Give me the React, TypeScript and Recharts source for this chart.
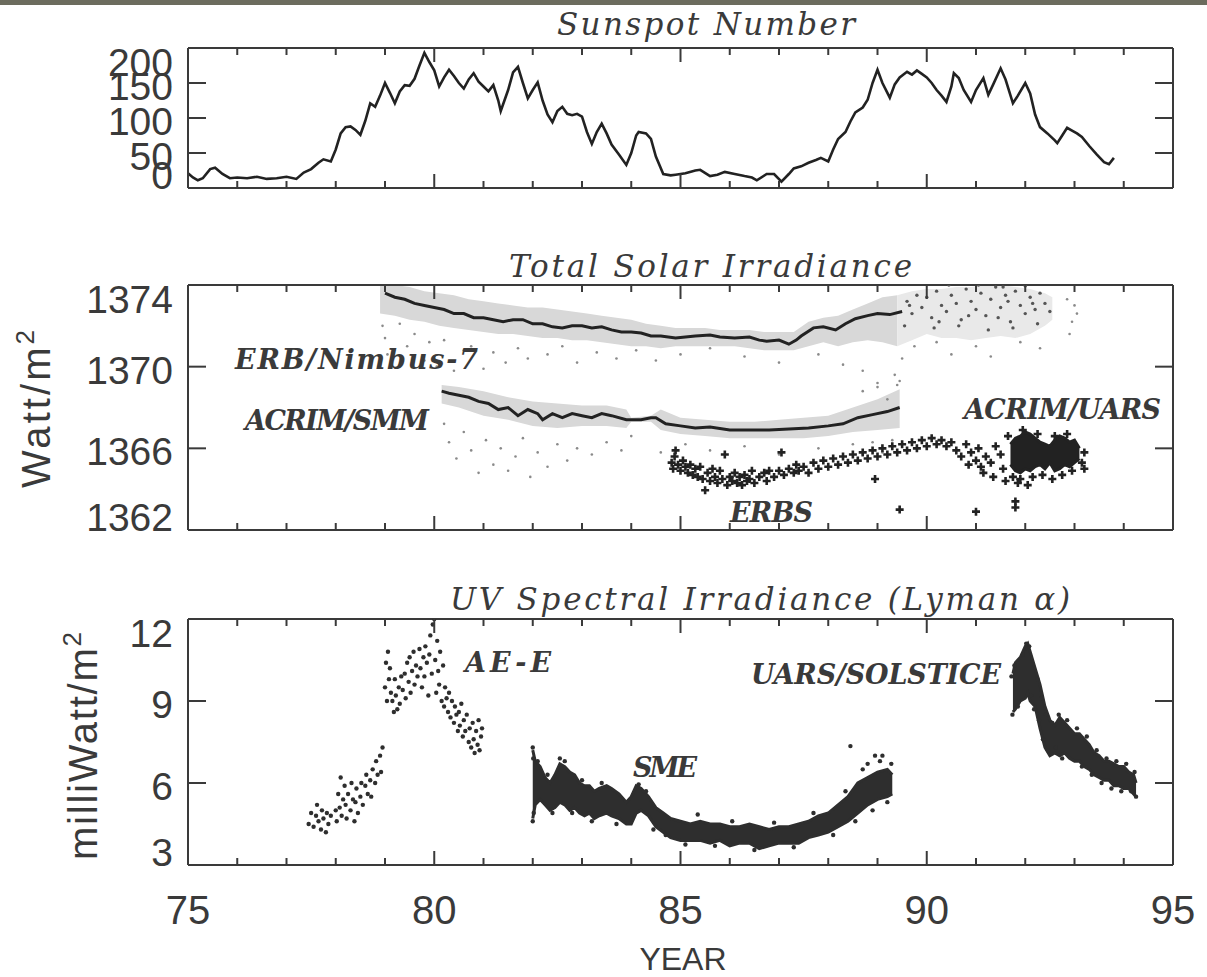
import React from 'react';
import { ComposedChart, Line, Area, Scatter, XAxis, YAxis } from 'recharts';

// ---- data (years as 19xx) ----
const YEAR_TICKS = [75, 76, 77, 78, 79, 80, 81, 82, 83, 84, 85, 86, 87, 88, 89, 90, 91, 92, 93, 94, 95];
const SUNSPOT_TICKS = [0, 50, 100, 150, 200];
const TSI_TICKS = [1362, 1366, 1370, 1374];
const UV_TICKS = [3, 6, 9, 12];

const sunspot = [
  [75.0, 21], [75.1, 15], [75.2, 11], [75.3, 14], [75.45, 27], [75.55, 29], [75.7, 20], [75.85, 14],
  [76.0, 15], [76.2, 14], [76.4, 16], [76.6, 13], [76.8, 14], [77.0, 16], [77.2, 13], [77.35, 22],
  [77.5, 27], [77.65, 36], [77.75, 41], [77.9, 38], [78.0, 55], [78.1, 78], [78.2, 87], [78.3, 88],
  [78.4, 83], [78.5, 76], [78.6, 96], [78.7, 121], [78.8, 116], [78.9, 132], [79.0, 150], [79.1, 136],
  [79.2, 121], [79.3, 138], [79.4, 147], [79.5, 146], [79.6, 156], [79.7, 175], [79.8, 193], [79.9, 180],
  [80.0, 168], [80.1, 145], [80.2, 158], [80.3, 169], [80.4, 160], [80.5, 150], [80.6, 142], [80.7, 155],
  [80.8, 164], [80.9, 152], [81.0, 145], [81.1, 138], [81.2, 147], [81.3, 125], [81.35, 110], [81.5, 140],
  [81.6, 165], [81.7, 173], [81.8, 150], [81.9, 128], [82.0, 140], [82.1, 151], [82.2, 125], [82.3, 105],
  [82.4, 94], [82.5, 110], [82.6, 116], [82.7, 106], [82.8, 104], [82.9, 106], [83.0, 102], [83.1, 80],
  [83.2, 63], [83.3, 80], [83.4, 92], [83.5, 78], [83.6, 62], [83.75, 48], [83.9, 33], [84.0, 50],
  [84.1, 75], [84.15, 80], [84.3, 78], [84.4, 70], [84.5, 45], [84.65, 20], [84.8, 18], [84.9, 19],
  [85.1, 21], [85.3, 25], [85.4, 26], [85.6, 17], [85.75, 19], [85.9, 23], [86.1, 20], [86.3, 17],
  [86.45, 15], [86.55, 11], [86.75, 20], [86.9, 20], [87.05, 9], [87.2, 20], [87.3, 28], [87.45, 31],
  [87.6, 36], [87.75, 40], [87.85, 43], [88.0, 38], [88.1, 55], [88.2, 70], [88.35, 80], [88.45, 95],
  [88.55, 108], [88.7, 115], [88.8, 126], [88.9, 150], [89.0, 169], [89.1, 150], [89.25, 129], [89.35, 148],
  [89.45, 158], [89.6, 166], [89.7, 162], [89.8, 168], [89.9, 163], [90.0, 158], [90.1, 150], [90.2, 140],
  [90.3, 132], [90.4, 123], [90.5, 145], [90.55, 164], [90.65, 157], [90.75, 140], [90.9, 123], [91.0, 140],
  [91.15, 157], [91.25, 133], [91.35, 148], [91.5, 171], [91.6, 155], [91.75, 121], [91.85, 132], [92.0, 150],
  [92.1, 135], [92.2, 105], [92.3, 87], [92.45, 78], [92.6, 68], [92.65, 64], [92.75, 75], [92.85, 86],
  [92.95, 82], [93.05, 78], [93.15, 73], [93.3, 60], [93.45, 48], [93.6, 37], [93.7, 34], [93.8, 43],
];

// ERB/Nimbus-7
const erbLine = [
  [79.0, 1373.6], [79.2, 1373.4], [79.4, 1373.3], [79.6, 1373.1], [79.8, 1373.0], [80.0, 1372.9],
  [80.2, 1372.8], [80.4, 1372.6], [80.6, 1372.6], [80.8, 1372.4], [81.0, 1372.4], [81.2, 1372.3],
  [81.4, 1372.2], [81.6, 1372.3], [81.8, 1372.3], [82.0, 1372.1], [82.2, 1372.1], [82.4, 1371.95],
  [82.6, 1371.9], [82.8, 1372.0], [83.0, 1372.0], [83.2, 1371.9], [83.4, 1371.95], [83.6, 1371.8],
  [83.8, 1371.7], [84.0, 1371.7], [84.2, 1371.65], [84.4, 1371.5], [84.6, 1371.5], [84.9, 1371.4],
  [85.1, 1371.45], [85.3, 1371.5], [85.6, 1371.55], [85.8, 1371.45], [86.1, 1371.4], [86.4, 1371.45],
  [86.6, 1371.3], [86.75, 1371.25], [87.0, 1371.3], [87.2, 1371.1], [87.35, 1371.3], [87.45, 1371.5],
  [87.7, 1371.9], [87.9, 1371.95], [88.15, 1371.8], [88.35, 1372.1], [88.55, 1372.35], [88.8, 1372.5],
  [89.0, 1372.6], [89.25, 1372.55], [89.5, 1372.7],
];
const erbBand = [
  [78.9, 1372.6, 1374.0], [79.2, 1372.5, 1374.0], [79.5, 1372.3, 1373.9], [79.8, 1372.2, 1373.7],
  [80.1, 1372.0, 1373.6], [80.4, 1371.9, 1373.5], [80.7, 1371.8, 1373.3], [81.0, 1371.7, 1373.2],
  [81.3, 1371.6, 1373.1], [81.6, 1371.6, 1373.0], [81.9, 1371.5, 1372.9], [82.2, 1371.4, 1372.9],
  [82.5, 1371.4, 1372.8], [82.8, 1371.3, 1372.7], [83.1, 1371.3, 1372.6], [83.4, 1371.2, 1372.5],
  [83.7, 1371.1, 1372.4], [84.0, 1371.0, 1372.3], [84.3, 1371.0, 1372.1], [84.6, 1370.9, 1372.0],
  [84.9, 1371.0, 1371.9], [85.2, 1371.0, 1371.9], [85.5, 1371.0, 1371.9], [85.8, 1371.0, 1371.8],
  [86.1, 1371.0, 1371.8], [86.4, 1370.9, 1371.8], [86.7, 1370.8, 1371.7], [87.0, 1370.8, 1371.7],
  [87.3, 1370.8, 1371.7], [87.6, 1371.0, 1372.2], [87.9, 1371.2, 1372.4], [88.2, 1371.0, 1372.5],
  [88.5, 1371.2, 1372.8], [88.8, 1371.3, 1373.1], [89.1, 1371.2, 1373.4], [89.4, 1371.0, 1373.5],
];
const erbLateBand = [
  [89.4, 1371.0, 1373.5], [89.7, 1371.3, 1373.7], [90.0, 1371.6, 1373.8], [90.3, 1371.4, 1373.8],
  [90.6, 1371.4, 1373.9], [90.9, 1371.3, 1373.9], [91.2, 1371.4, 1374.0], [91.5, 1371.5, 1374.0],
  [91.8, 1371.4, 1373.9], [92.1, 1371.6, 1373.8], [92.4, 1372.0, 1373.6], [92.55, 1372.3, 1373.4],
];
const erbSpeckle = [
  [78.95, 1372.0], [79.0, 1371.4], [79.05, 1370.6], [79.3, 1372.1], [79.45, 1371.0], [79.6, 1371.6],
  [79.8, 1370.3], [79.9, 1371.2], [80.05, 1370.0], [80.2, 1371.3], [80.4, 1369.8], [80.6, 1370.8],
  [80.75, 1371.0], [81.0, 1369.9], [81.2, 1370.7], [81.45, 1370.2], [81.7, 1370.9], [81.9, 1370.4],
  [82.3, 1370.6], [82.6, 1371.0], [82.9, 1370.2], [83.3, 1370.7], [83.7, 1370.4], [84.1, 1370.8],
  [84.5, 1370.3], [85.0, 1370.6], [85.6, 1370.9], [86.3, 1370.5], [87.0, 1370.2], [87.8, 1370.6],
  [88.3, 1370.1], [88.7, 1369.8], [89.0, 1369.2], [89.2, 1368.4], [89.35, 1369.6], [89.5, 1370.4],
  [89.75, 1371.0], [90.2, 1371.2], [90.5, 1370.6], [91.0, 1371.0], [91.3, 1370.5], [91.9, 1371.2],
  [92.3, 1370.9], [92.9, 1371.6], [92.95, 1372.2], [93.0, 1373.0], [92.85, 1373.3], [93.05, 1372.6],
];
const erbLateSpeckle = [
  [89.6, 1373.2], [89.7, 1372.6], [89.8, 1373.5], [89.9, 1372.9], [90.0, 1373.4], [90.1, 1372.4],
  [90.2, 1373.7], [90.3, 1373.0], [90.4, 1372.7], [90.5, 1373.5], [90.6, 1373.1], [90.7, 1372.3],
  [90.8, 1373.8], [90.9, 1373.2], [91.0, 1372.8], [91.1, 1373.6], [91.2, 1372.5], [91.3, 1373.3],
  [91.4, 1373.9], [91.5, 1372.9], [91.6, 1373.5], [91.7, 1372.2], [91.8, 1373.7], [91.9, 1373.0],
  [92.0, 1372.6], [92.1, 1373.4], [92.2, 1372.8], [92.3, 1373.6], [92.4, 1373.1], [92.5, 1372.7],
  [89.55, 1372.0], [90.15, 1371.9], [90.65, 1372.0], [91.25, 1371.8], [91.75, 1371.9], [92.25, 1372.1],
  [90.45, 1374.0], [91.05, 1374.0], [91.55, 1373.9], [92.0, 1373.95], [89.65, 1373.0], [90.85, 1372.5],
  [91.45, 1372.4], [92.15, 1373.1], [90.25, 1372.2], [91.65, 1373.2],
];

// ACRIM/SMM
const smmLine = [
  [80.15, 1368.8], [80.3, 1368.7], [80.5, 1368.6], [80.7, 1368.5], [80.9, 1368.3], [81.1, 1368.2],
  [81.3, 1367.9], [81.5, 1368.0], [81.7, 1367.6], [81.9, 1367.9], [82.1, 1367.7], [82.2, 1367.4],
  [82.4, 1367.7], [82.6, 1367.5], [82.8, 1367.7], [83.0, 1367.6], [83.2, 1367.5], [83.4, 1367.7],
  [83.6, 1367.6], [83.9, 1367.4], [84.2, 1367.4], [84.4, 1367.5], [84.5, 1367.5], [84.7, 1367.2],
  [85.0, 1367.1], [85.3, 1367.0], [85.6, 1367.05], [86.0, 1366.9], [86.4, 1366.9], [86.8, 1366.9],
  [87.2, 1366.95], [87.6, 1367.0], [88.0, 1367.1], [88.3, 1367.2], [88.6, 1367.5], [88.9, 1367.65],
  [89.2, 1367.8], [89.45, 1368.0],
];
const smmBand = [
  [80.15, 1368.2, 1369.1], [80.5, 1368.0, 1369.0], [81.0, 1367.6, 1368.8], [81.5, 1367.4, 1368.5],
  [82.0, 1367.1, 1368.3], [82.5, 1367.0, 1368.2], [83.0, 1367.1, 1368.1], [83.5, 1367.1, 1368.1],
  [83.9, 1367.0, 1367.9], [84.0, 1367.3, 1367.5], [84.4, 1367.3, 1367.6], [84.6, 1366.9, 1367.9],
  [85.0, 1366.7, 1367.5], [85.5, 1366.6, 1367.4], [86.0, 1366.5, 1367.3], [86.5, 1366.5, 1367.3],
  [87.0, 1366.5, 1367.4], [87.5, 1366.5, 1367.5], [88.0, 1366.6, 1367.6], [88.5, 1366.8, 1368.0],
  [89.0, 1366.9, 1368.4], [89.45, 1367.0, 1368.9],
];
const smmSpeckle = [
  [80.2, 1367.2], [80.3, 1366.3], [80.45, 1365.5], [80.6, 1366.8], [80.75, 1365.9], [80.9, 1364.8],
  [81.05, 1366.4], [81.2, 1365.2], [81.35, 1366.0], [81.5, 1364.9], [81.65, 1365.6], [81.8, 1366.5],
  [81.95, 1364.6], [82.1, 1365.8], [82.3, 1365.1], [82.5, 1366.2], [82.7, 1365.4], [82.9, 1366.0],
  [83.2, 1365.7], [83.5, 1366.3], [83.8, 1365.9], [84.0, 1366.6], [84.6, 1365.8], [85.1, 1366.2],
  [85.6, 1365.9], [86.3, 1366.1], [87.0, 1365.7], [87.8, 1366.0], [88.5, 1366.2], [88.7, 1365.7],
  [88.9, 1366.3], [89.1, 1365.8], [89.3, 1366.4], [89.4, 1369.1], [89.45, 1369.3], [89.0, 1369.0],
  [88.7, 1368.8],
];

// ERBS and ACRIM/UARS
const erbsPoints = [
  [84.82, 1365.3], [84.85, 1365.0], [84.88, 1365.6], [84.9, 1365.9], [84.95, 1365.2], [85.0, 1364.9],
  [85.05, 1365.4], [85.1, 1365.1], [85.15, 1364.8], [85.2, 1365.2], [85.25, 1364.7], [85.3, 1365.0],
  [85.35, 1364.6], [85.4, 1365.1], [85.45, 1364.5], [85.5, 1363.95], [85.55, 1364.8], [85.6, 1364.4],
  [85.65, 1365.0], [85.7, 1364.6], [85.75, 1364.3], [85.8, 1364.9], [85.85, 1364.5], [85.9, 1365.7],
  [85.95, 1364.2], [86.0, 1364.6], [86.05, 1364.4], [86.1, 1364.8], [86.15, 1364.3], [86.2, 1364.6],
  [86.25, 1364.2], [86.3, 1364.7], [86.35, 1364.4], [86.4, 1364.5], [86.45, 1364.9], [86.5, 1364.3],
  [86.6, 1364.6], [86.7, 1364.8], [86.75, 1364.4], [86.8, 1364.9], [86.9, 1364.6], [87.0, 1364.9],
  [87.05, 1365.8], [87.1, 1364.7], [87.2, 1365.0], [87.3, 1364.8], [87.35, 1365.2], [87.4, 1364.9],
  [87.5, 1365.1], [87.6, 1364.8], [87.7, 1365.3], [87.8, 1365.0], [87.9, 1365.4], [88.0, 1365.1],
  [88.1, 1365.5], [88.2, 1365.2], [88.3, 1365.6], [88.4, 1365.3], [88.5, 1365.7], [88.6, 1365.4],
  [88.7, 1365.8], [88.8, 1365.5], [88.95, 1364.5], [88.9, 1365.9], [89.0, 1365.6], [89.1, 1366.0],
  [89.2, 1365.7], [89.3, 1366.1], [89.4, 1365.8], [89.45, 1363.0], [89.5, 1366.2], [89.6, 1365.9],
  [89.7, 1366.3], [89.8, 1366.0], [89.9, 1366.4], [90.0, 1366.1], [90.1, 1366.5], [90.2, 1366.2],
  [90.3, 1366.4], [90.4, 1366.1], [90.5, 1366.3], [90.6, 1365.9], [90.7, 1365.6], [90.8, 1366.2],
  [90.85, 1365.2], [90.9, 1365.8], [91.0, 1365.4], [91.0, 1362.9], [91.05, 1366.0], [91.1, 1365.1],
  [91.15, 1364.8], [91.2, 1365.6], [91.3, 1365.3], [91.35, 1364.6], [91.4, 1366.1], [91.5, 1365.7],
  [91.55, 1365.0], [91.6, 1364.4], [91.8, 1363.1], [91.8, 1363.4],
];
const uarsBand = [
  [91.7, 1365.2, 1366.2], [91.8, 1364.9, 1366.5], [91.9, 1364.8, 1366.6], [92.0, 1365.0, 1366.8],
  [92.1, 1364.9, 1366.7], [92.2, 1365.1, 1366.5], [92.3, 1365.2, 1366.3], [92.4, 1365.0, 1366.2],
  [92.5, 1365.3, 1366.1], [92.6, 1364.9, 1366.4], [92.7, 1365.0, 1366.6], [92.8, 1365.2, 1366.5],
  [92.9, 1365.1, 1366.3], [93.0, 1365.3, 1366.4], [93.1, 1365.5, 1366.0],
];
const uarsPoints = [
  [91.75, 1364.6], [91.85, 1364.3], [91.9, 1364.5], [92.05, 1364.2], [92.15, 1364.6], [92.35, 1364.7],
  [92.55, 1364.5], [92.75, 1364.7], [92.95, 1364.9], [93.15, 1365.3], [93.2, 1365.8], [93.2, 1365.0],
  [91.65, 1366.6], [91.95, 1366.9], [92.25, 1366.7], [92.6, 1366.6], [92.85, 1366.7],
];

// UV Lyman alpha
const aeePoints = [
  [77.45, 4.5], [77.5, 4.9], [77.55, 4.4], [77.6, 4.8], [77.62, 5.2], [77.65, 4.6], [77.7, 4.3],
  [77.72, 5.0], [77.75, 4.7], [77.8, 4.2], [77.82, 4.9], [77.85, 4.5], [77.9, 4.8], [78.0, 5.0],
  [78.02, 4.6], [78.05, 5.6], [78.08, 5.1], [78.1, 6.2], [78.12, 4.8], [78.15, 5.4], [78.18, 5.9],
  [78.2, 5.2], [78.22, 4.7], [78.25, 5.6], [78.3, 5.0], [78.32, 6.0], [78.35, 5.4], [78.38, 4.6],
  [78.4, 5.3], [78.42, 5.8], [78.45, 4.9], [78.5, 5.5], [78.52, 6.0], [78.55, 5.2], [78.6, 5.9],
  [78.62, 6.3], [78.65, 5.6], [78.7, 6.1], [78.72, 5.5], [78.75, 6.5], [78.8, 6.0], [78.82, 6.8],
  [78.85, 6.3], [78.9, 7.0], [78.92, 6.4], [78.95, 7.3], [79.0, 9.5], [79.02, 10.4], [79.04, 9.0],
  [79.06, 10.8], [79.08, 9.8], [79.1, 10.2], [79.12, 9.3], [79.15, 9.0], [79.18, 8.6], [79.2, 9.8],
  [79.22, 9.2], [79.25, 8.7], [79.28, 9.5], [79.3, 8.9], [79.33, 9.9], [79.36, 9.4], [79.4, 10.0],
  [79.42, 9.1], [79.45, 10.4], [79.48, 9.7], [79.5, 10.6], [79.52, 9.3], [79.55, 10.1], [79.58, 10.8],
  [79.6, 9.6], [79.63, 10.3], [79.66, 9.9], [79.7, 10.9], [79.72, 10.2], [79.75, 9.5], [79.78, 10.6],
  [79.8, 9.9], [79.82, 11.0], [79.85, 10.4], [79.88, 9.2], [79.9, 10.7], [79.92, 11.4], [79.95, 10.0],
  [79.97, 11.8], [80.0, 12.0], [80.02, 10.5], [80.04, 9.3], [80.06, 11.2], [80.08, 10.1], [80.1, 9.6],
  [80.12, 10.8], [80.15, 9.0], [80.18, 10.3], [80.2, 8.8], [80.22, 9.5], [80.25, 9.1], [80.28, 8.6],
  [80.3, 9.3], [80.33, 8.4], [80.36, 9.0], [80.4, 8.2], [80.42, 8.8], [80.45, 8.5], [80.48, 7.9],
  [80.5, 8.6], [80.52, 8.1], [80.55, 8.9], [80.58, 7.7], [80.6, 8.3], [80.63, 7.9], [80.66, 8.5],
  [80.7, 7.5], [80.72, 8.0], [80.75, 7.3], [80.78, 8.2], [80.8, 7.6], [80.82, 7.1], [80.85, 7.9],
  [80.88, 7.4], [80.9, 8.3], [80.92, 7.2], [80.95, 7.7], [80.97, 8.0],
];
const smeBand = [
  [82.0, 4.7, 7.2], [82.05, 5.2, 6.8], [82.15, 5.4, 6.6], [82.25, 5.2, 6.2], [82.35, 5.0, 6.0],
  [82.45, 5.1, 6.3], [82.55, 5.3, 6.7], [82.65, 5.2, 6.6], [82.75, 5.0, 6.4], [82.85, 5.1, 6.3],
  [82.95, 4.9, 6.0], [83.05, 4.8, 5.9], [83.15, 4.9, 5.9], [83.25, 4.7, 5.7], [83.35, 4.8, 5.8],
  [83.5, 4.9, 5.9], [83.6, 4.8, 5.8], [83.75, 4.7, 5.6], [83.9, 4.5, 5.3], [84.0, 4.5, 5.5],
  [84.1, 4.9, 5.9], [84.2, 5.0, 5.8], [84.35, 4.8, 5.5], [84.5, 4.4, 5.1], [84.65, 4.2, 4.9],
  [84.8, 4.0, 4.7], [85.0, 3.9, 4.6], [85.2, 3.9, 4.5], [85.4, 3.9, 4.6], [85.6, 3.8, 4.5],
  [85.8, 3.9, 4.5], [86.0, 3.7, 4.4], [86.2, 3.8, 4.4], [86.4, 3.8, 4.5], [86.6, 3.6, 4.4],
  [86.8, 3.7, 4.3], [87.0, 3.8, 4.4], [87.2, 3.8, 4.4], [87.4, 3.8, 4.5], [87.6, 4.0, 4.6],
  [87.8, 4.1, 4.8], [88.0, 4.2, 4.9], [88.2, 4.4, 5.2], [88.4, 4.6, 5.5], [88.6, 4.9, 6.0],
  [88.8, 5.2, 6.2], [89.0, 5.4, 6.4], [89.2, 5.5, 6.5], [89.3, 5.6, 6.3],
];
const smePoints = [
  [82.0, 7.3], [82.0, 4.6], [82.01, 6.9], [82.02, 4.9], [82.1, 6.8], [82.3, 6.3], [82.4, 4.9],
  [82.55, 6.9], [82.65, 6.8], [82.8, 4.9], [83.0, 6.1], [83.2, 4.6], [83.4, 6.0], [83.7, 4.5],
  [84.15, 5.95], [84.3, 5.7], [84.45, 4.3], [84.7, 4.1], [85.1, 3.75], [85.35, 4.85], [85.7, 3.7],
  [86.05, 4.6], [86.5, 3.55], [86.9, 4.55], [87.3, 3.65], [87.7, 4.9], [88.1, 4.1], [88.35, 5.7],
  [88.45, 7.35], [88.55, 4.6], [88.7, 6.5], [88.8, 6.7], [88.9, 5.0], [88.95, 7.0], [89.05, 6.8],
  [89.1, 7.0], [89.2, 5.3], [89.28, 6.7],
];
const solBand = [
  [91.75, 8.6, 10.0], [91.8, 8.7, 10.4], [91.9, 9.0, 10.6], [92.0, 9.1, 11.0], [92.05, 9.3, 11.1],
  [92.1, 9.0, 10.8], [92.2, 8.8, 10.2], [92.3, 8.0, 9.6], [92.4, 7.3, 8.8], [92.5, 7.0, 8.3],
  [92.6, 7.1, 8.1], [92.7, 7.0, 8.4], [92.8, 7.1, 8.2], [92.9, 6.9, 8.0], [93.0, 6.8, 7.8],
  [93.1, 6.8, 7.8], [93.2, 6.6, 7.6], [93.3, 6.5, 7.4], [93.4, 6.3, 7.1], [93.5, 6.2, 7.0],
  [93.6, 6.1, 6.8], [93.7, 6.1, 6.8], [93.8, 5.9, 6.7], [93.9, 5.9, 6.6], [94.0, 5.8, 6.6],
  [94.1, 5.8, 6.4], [94.2, 5.6, 6.3], [94.25, 5.5, 6.0],
];
const solPoints = [
  [91.72, 9.9], [91.74, 8.5], [91.78, 10.3], [91.85, 8.8], [91.95, 10.7], [92.02, 11.1], [92.05, 10.9],
  [92.08, 11.0], [92.12, 9.2], [92.18, 8.7], [92.25, 9.8], [92.28, 8.3], [92.33, 9.1], [92.36, 7.6],
  [92.42, 8.5], [92.46, 7.2], [92.55, 8.2], [92.62, 7.3], [92.68, 8.5], [92.75, 6.9], [92.85, 8.3],
  [93.05, 8.0], [93.15, 6.6], [93.25, 7.7], [93.35, 6.3], [93.45, 7.2], [93.55, 6.0], [93.65, 6.9],
  [93.75, 5.8], [93.85, 6.8], [93.95, 5.7], [94.05, 6.7], [94.15, 5.7], [94.22, 6.4], [94.25, 5.5],
];

// ---- layout ----
const W = 1207;
const H = 977;
const PLOT_LEFT = 188;
const PLOT_RIGHT = 1173;
const AX = 1; // axis band thickness (CartesianAxis skips drawing when 0)
const FRAME = '#3a3a3a';
const INK = '#222';
const TEXT = '#3a3a3a';
const SANS = '"Liberation Sans", Arial, sans-serif';
const SERIF = '"DejaVu Serif", "Liberation Serif", serif';

const pts = (rows: number[][]) => rows.map(([x, y]) => ({ x, y }));
const band = (rows: number[][]) => rows.map(([x, lo, hi]) => ({ x, lo, hi }));
const range = (d: any) => [d.lo, d.hi];

const XTick = (props: any) => {
  const { x, y, payload, dir, label } = props;
  const major = payload.value % 5 === 0;
  const len = major ? 14 : 7;
  return (
    <g>
      <line x1={x} y1={y} x2={x} y2={y + dir * len} stroke={FRAME} strokeWidth={2} />
      {label && major && (
        <text x={x} y={y + 59} textAnchor="middle" fontFamily={SANS} fontSize={40} fill={TEXT}>
          {payload.value}
        </text>
      )}
    </g>
  );
};

const YTick = (props: any) => {
  const { x, y, payload, side, top, bottom } = props;
  if (side === 'right') {
    return <line x1={x} y1={y} x2={x - 18} y2={y} stroke={FRAME} strokeWidth={2} />;
  }
  const cy = Math.min(Math.max(y + 3, top + 14), bottom - 13);
  return (
    <g>
      <line x1={x} y1={y} x2={x + 18} y2={y} stroke={FRAME} strokeWidth={2} />
      <text x={x - 15} y={cy + 14} textAnchor="end" fontFamily={SANS} fontSize={39} fill={TEXT}>
        {payload.value}
      </text>
    </g>
  );
};

const Cross = (props: any) => {
  const { cx, cy } = props;
  return <path d={`M${cx - 4},${cy}H${cx + 4}M${cx},${cy - 4}V${cy + 4}`} stroke={INK} strokeWidth={2.6} />;
};
const Speck = (props: any) => <circle cx={props.cx} cy={props.cy} r={1.3} fill="#8a8a8a" />;
const DarkSpeck = (props: any) => <circle cx={props.cx} cy={props.cy} r={1.7} fill="#555" />;
const Grain = (props: any) => <circle cx={props.cx} cy={props.cy} r={2.2} fill="#2e2e2e" />;

function Panel({ top, bottom, domain, ticks, xLabels, children }: any) {
  const frame = { stroke: FRAME, strokeWidth: 2 };
  return (
    <div style={{ position: 'absolute', left: 0, top: 0 }}>
      <ComposedChart
        width={W}
        height={H}
        margin={{ top: top - AX, bottom: H - bottom - AX, left: PLOT_LEFT - AX, right: W - PLOT_RIGHT - AX }}
      >
        <XAxis xAxisId="b" dataKey="x" type="number" domain={[75, 95]} ticks={YEAR_TICKS} interval={0}
          allowDataOverflow height={AX} tickSize={0} tickMargin={0} axisLine={frame} tickLine={false}
          tick={(p: any) => <XTick {...p} dir={-1} label={xLabels} />} />
        <XAxis xAxisId="t" orientation="top" dataKey="x" type="number" domain={[75, 95]} ticks={YEAR_TICKS}
          interval={0} allowDataOverflow height={AX} tickSize={0} tickMargin={0} axisLine={frame} tickLine={false}
          tick={(p: any) => <XTick {...p} dir={1} label={false} />} />
        <YAxis yAxisId="l" type="number" domain={domain} ticks={ticks} interval={0} allowDataOverflow
          width={AX} tickSize={0} tickMargin={0} axisLine={frame} tickLine={false}
          tick={(p: any) => <YTick {...p} side="left" top={top} bottom={bottom} />} />
        <YAxis yAxisId="r" orientation="right" type="number" domain={domain} ticks={ticks} interval={0}
          allowDataOverflow width={AX} tickSize={0} tickMargin={0} axisLine={frame} tickLine={false}
          tick={(p: any) => <YTick {...p} side="right" />} />
        {children}
      </ComposedChart>
    </div>
  );
}

const ax = { xAxisId: 'b', yAxisId: 'l', isAnimationActive: false } as const;

export default function App() {
  return (
    <div style={{ position: 'absolute', left: 0, top: 0, width: W, height: H, background: '#fff', overflow: 'hidden' }}>
      <div style={{ position: 'absolute', left: 0, top: 0, width: W, height: 5, background: '#6c6c5e' }} />

      <Panel top={48} bottom={188} domain={[0, 200]} ticks={SUNSPOT_TICKS}>
        <Line {...ax} data={pts(sunspot)} dataKey="y" type="linear" dot={false} stroke={INK} strokeWidth={2.6} />
      </Panel>

      <Panel top={285} bottom={530} domain={[1362, 1374]} ticks={TSI_TICKS}>
        <Area {...ax} data={band(erbBand)} dataKey={range} type="linear" stroke="none" fill="#d8d8d8" fillOpacity={1} />
        <Area {...ax} data={band(erbLateBand)} dataKey={range} type="linear" stroke="none" fill="#e9e9e9" fillOpacity={1} />
        <Area {...ax} data={band(smmBand)} dataKey={range} type="linear" stroke="none" fill="#d8d8d8" fillOpacity={1} />
        <Scatter {...ax} data={pts(erbSpeckle)} dataKey="y" shape={Speck} />
        <Scatter {...ax} data={pts(erbLateSpeckle)} dataKey="y" shape={DarkSpeck} />
        <Scatter {...ax} data={pts(smmSpeckle)} dataKey="y" shape={Speck} />
        <Line {...ax} data={pts(erbLine)} dataKey="y" type="linear" dot={false} stroke={INK} strokeWidth={3} />
        <Line {...ax} data={pts(smmLine)} dataKey="y" type="linear" dot={false} stroke={INK} strokeWidth={3} />
        <Area {...ax} data={band(uarsBand)} dataKey={range} type="linear" stroke={INK} strokeWidth={3} fill={INK} fillOpacity={1} />
        <Scatter {...ax} data={pts(erbsPoints)} dataKey="y" shape={Cross} />
        <Scatter {...ax} data={pts(uarsPoints)} dataKey="y" shape={Cross} />
      </Panel>

      <Panel top={619} bottom={865} domain={[3, 12]} ticks={UV_TICKS} xLabels>
        <Scatter {...ax} data={pts(aeePoints)} dataKey="y" shape={Grain} />
        <Area {...ax} data={band(smeBand)} dataKey={range} type="linear" stroke="#2e2e2e" strokeWidth={3} fill="#2e2e2e" fillOpacity={1} />
        <Scatter {...ax} data={pts(smePoints)} dataKey="y" shape={Grain} />
        <Area {...ax} data={band(solBand)} dataKey={range} type="linear" stroke="#2e2e2e" strokeWidth={3} fill="#2e2e2e" fillOpacity={1} />
        <Scatter {...ax} data={pts(solPoints)} dataKey="y" shape={Grain} />
      </Panel>

      <svg width={W} height={H} style={{ position: 'absolute', left: 0, top: 0, pointerEvents: 'none' }}>
        <g fontFamily={SERIF} fontStyle="italic" fill={TEXT}>
          <text x={557} y={35} fontSize={31} textLength={298} lengthAdjust="spacing">Sunspot Number</text>
          <text x={509} y={277} fontSize={31} textLength={403} lengthAdjust="spacing">Total Solar Irradiance</text>
          <text x={450} y={610} fontSize={31} textLength={620} lengthAdjust="spacing">UV Spectral Irradiance (Lyman α)</text>
        </g>
        <g fontFamily={SERIF} fontStyle="italic" fontWeight="bold" fontSize={27} fill={TEXT}>
          <text x={235} y={369} textLength={243} lengthAdjust="spacing">ERB/Nimbus-7</text>
          <text x={245} y={430} textLength={184} lengthAdjust="spacing">ACRIM/SMM</text>
          <text x={964} y={419} textLength={197} lengthAdjust="spacing">ACRIM/UARS</text>
          <text x={730} y={522} textLength={83} lengthAdjust="spacing">ERBS</text>
          <text x={465} y={672} textLength={86} lengthAdjust="spacing">AE-E</text>
          <text x={633} y={777} textLength={64} lengthAdjust="spacing">SME</text>
          <text x={751} y={684} textLength={250} lengthAdjust="spacing">UARS/SOLSTICE</text>
        </g>
        <g fontFamily={SANS} fill={TEXT}>
          <text transform="translate(50,409) rotate(-90)" textAnchor="middle" fontSize={40} textLength={158} lengthAdjust="spacing">
            Watt/m<tspan fontSize={26} dy={-16}>2</tspan>
          </text>
          <text transform="translate(97,746) rotate(-90)" textAnchor="middle" fontSize={40} textLength={228} lengthAdjust="spacing">
            milliWatt/m<tspan fontSize={26} dy={-16}>2</tspan>
          </text>
          <text x={683} y={970} textAnchor="middle" fontSize={32}>YEAR</text>
        </g>
      </svg>
    </div>
  );
}
